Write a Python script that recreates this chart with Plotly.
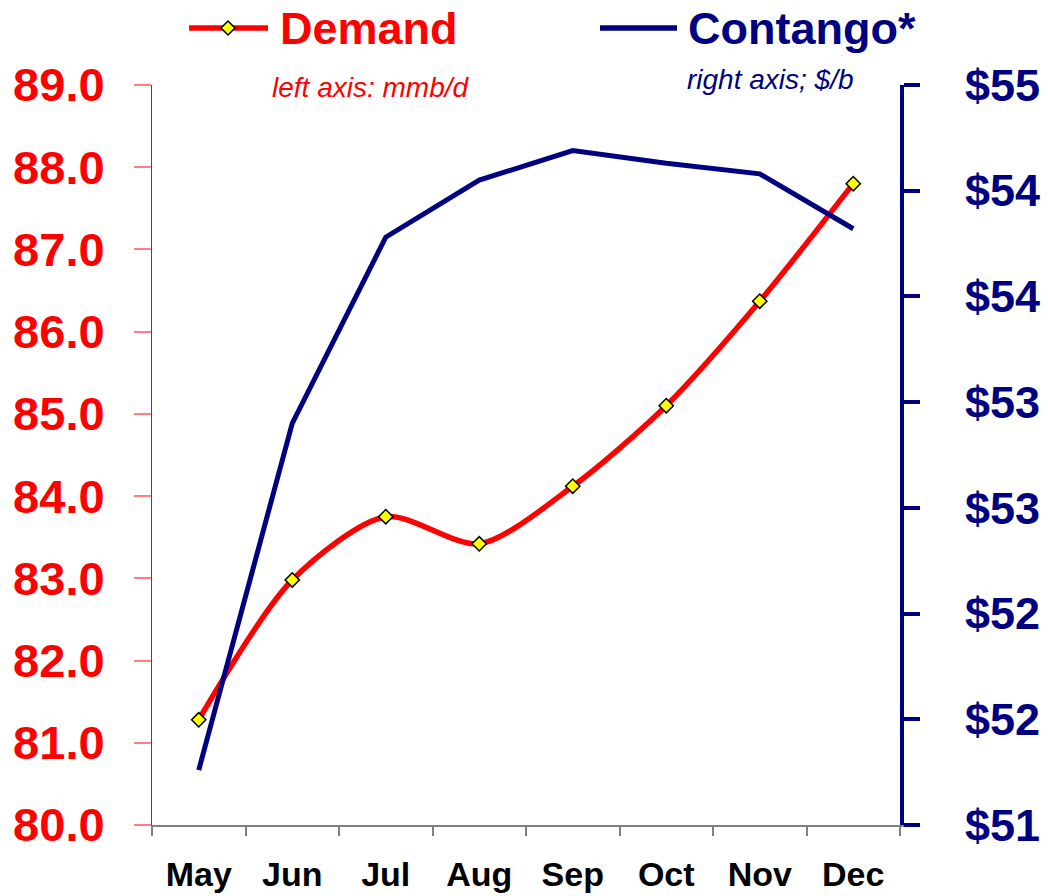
import plotly.graph_objects as go

# Monthly series
months = ["May", "Jun", "Jul", "Aug", "Sep", "Oct", "Nov", "Dec"]
demand = [81.28, 82.98, 83.75, 83.42, 84.12, 85.10, 86.37, 87.80]      # mmb/d, left axis
contango = [51.26, 52.90, 53.78, 54.05, 54.19, 54.13, 54.08, 53.82]    # $/b, right axis

# Axis ticks
left_ticks = [80, 81, 82, 83, 84, 85, 86, 87, 88, 89]
right_ticks = [51, 51.5, 52, 52.5, 53, 53.5, 54, 54.5]
right_ticktext = ["$51", "$52", "$52", "$53", "$53", "$54", "$54", "$55"]

RED = "#ff0000"
NAVY = "#000080"
FONT = "Liberation Sans"

W, H = 1048, 896
ML, MR, MT, MB = 152, 148, 85, 71
PW, PH = W - ML - MR, H - MT - MB


def px_x(x):
    """Horizontal pixel position -> paper coordinate."""
    return (x - ML) / PW


def px_y(y):
    """Vertical pixel position (from top) -> paper coordinate."""
    return (H - MB - y) / PH


fig = go.Figure()

fig.add_trace(go.Scatter(
    x=months, y=demand, name="Demand", yaxis="y",
    mode="lines+markers",
    line=dict(color=RED, width=5.5, shape="spline", smoothing=0.8),
    marker=dict(symbol="diamond", size=11, color="#ffff00",
                line=dict(color="#000000", width=1.5)),
))

fig.add_trace(go.Scatter(
    x=months, y=contango, name="Contango*", yaxis="y2",
    mode="lines",
    line=dict(color=NAVY, width=5),
))

# Legend drawn as a header row: line samples plus coloured labels
legend_y = px_y(28)
shapes = [
    dict(type="line", xref="paper", yref="paper",
         x0=px_x(189), x1=px_x(268), y0=legend_y, y1=legend_y,
         line=dict(color=RED, width=5.5)),
    dict(type="path", xref="paper", yref="paper",
         xsizemode="pixel", ysizemode="pixel",
         xanchor=px_x(228), yanchor=legend_y,
         path="M -7 0 L 0 7 L 7 0 L 0 -7 Z",
         fillcolor="#ffff00", line=dict(color="#000000", width=1.5)),
    dict(type="line", xref="paper", yref="paper",
         x0=px_x(600), x1=px_x(677), y0=legend_y, y1=legend_y,
         line=dict(color=NAVY, width=5.5)),
]

annotations = [
    dict(text="<b>Demand</b>", xref="paper", yref="paper",
         x=px_x(278), y=legend_y, xanchor="left", yanchor="middle", showarrow=False,
         font=dict(family=FONT, size=45, color=RED)),
    dict(text="<b>Contango*</b>", xref="paper", yref="paper",
         x=px_x(686), y=legend_y, xanchor="left", yanchor="middle", showarrow=False,
         font=dict(family=FONT, size=45, color=NAVY)),
    dict(text="<i>left axis: mmb/d</i>", xref="paper", yref="paper",
         x=px_x(370), y=px_y(88), xanchor="center", yanchor="middle", showarrow=False,
         font=dict(family=FONT, size=28, color=RED)),
    dict(text="<i>right axis; $/b</i>", xref="paper", yref="paper",
         x=px_x(770), y=px_y(79), xanchor="center", yanchor="middle", showarrow=False,
         font=dict(family=FONT, size=28, color=NAVY)),
]

fig.update_layout(
    width=W, height=H,
    margin=dict(l=ML, r=MR, t=MT, b=MB, autoexpand=False),
    plot_bgcolor="white", paper_bgcolor="white",
    font=dict(family=FONT),
    showlegend=False,
    shapes=shapes,
    annotations=annotations,
    xaxis=dict(
        type="category", categoryorder="array", categoryarray=months,
        range=[-0.5, 7.5],
        showline=True, linecolor="#808080", linewidth=2,
        ticks="outside", tickson="boundaries", ticklen=9, tickcolor="#808080", tickwidth=1.5,
        ticklabelstandoff=18,
        tickfont=dict(family=FONT, size=34, color="#000000", weight="bold"),
        showgrid=False, zeroline=False,
    ),
    yaxis=dict(
        range=[80, 89], tickvals=left_ticks, tickformat=".1f",
        showline=True, linecolor=RED, linewidth=1,
        ticks="outside", ticklen=17, tickcolor="#ff7f7f", tickwidth=1.5,
        ticklabelstandoff=20,
        tickfont=dict(family=FONT, size=47, color=RED, weight="bold"),
        showgrid=False, zeroline=False,
    ),
    yaxis2=dict(
        range=[51, 54.5], tickvals=right_ticks, ticktext=right_ticktext,
        overlaying="y", side="right",
        showline=True, linecolor=NAVY, linewidth=4,
        ticks="outside", ticklen=16, tickcolor=NAVY, tickwidth=4,
        ticklabelstandoff=36,
        tickfont=dict(family=FONT, size=45, color=NAVY, weight="bold"),
        showgrid=False, zeroline=False,
    ),
)

fig.write_html("out.html")
